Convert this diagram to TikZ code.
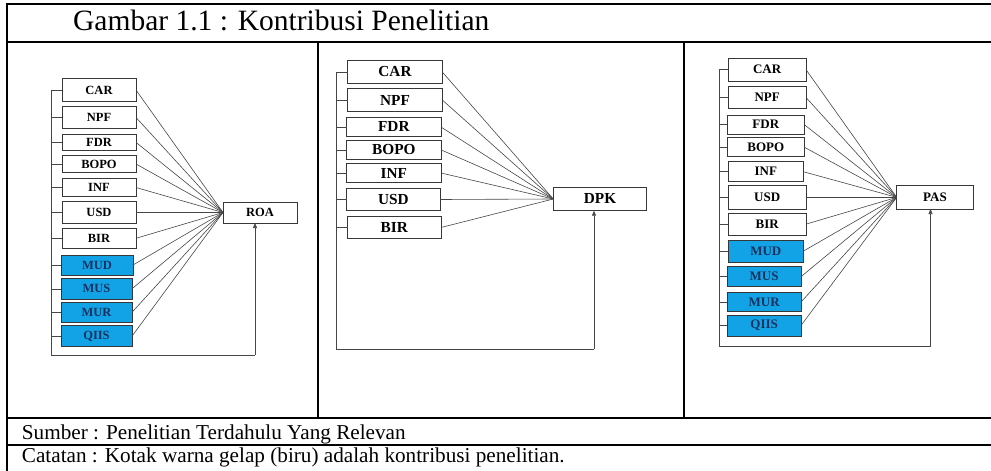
\documentclass[tikz,border=0pt]{standalone}
\usepackage{fontspec}
\setmainfont{Liberation Serif}
\usetikzlibrary{arrows.meta}

\definecolor{contrib}{RGB}{18,163,230}
\definecolor{contribtext}{RGB}{25,50,95}
\definecolor{wirecol}{RGB}{70,70,70}
\definecolor{edgecol}{RGB}{55,55,55}

% box given by its corners (x1,y1)-(x2,y2), y measured downwards
\newcommand{\boxnode}[7][]{%
  \pgfmathsetmacro\bxcx{(#3+#5)/2}\pgfmathsetmacro\bxcy{(#4+#6)/2}%
  \pgfmathsetmacro\bxw{#5-#3}\pgfmathsetmacro\bxh{#6-#4}%
  \node[#1, minimum width=\bxw pt, minimum height=\bxh pt] (#2) at (\bxcx,\bxcy) {#7};}

\begin{document}
\begin{tikzpicture}[x=1pt,y=-1pt,
  varbox/.style={draw=edgecol, line width=0.8pt, inner sep=0pt, outer sep=0pt, fill=white},
  pa/.style={varbox, font=\fontsize{12.5}{13}\selectfont\bfseries},
  pb/.style={varbox, line width=1pt, font=\fontsize{15.3}{16}\selectfont\bfseries},
  pc/.style={varbox, font=\fontsize{13}{14}\selectfont\bfseries},
  blue/.style={fill=contrib, text=contribtext},
  wire/.style={draw=wirecol, line width=0.6pt},
  feed/.style={wire, -{Triangle[length=5pt,width=4pt]}},
  rule/.style={line width=2pt, black},
  cell/.style={anchor=base west, inner sep=0pt}]

\useasboundingbox (0,0) rectangle (991,471);

% ---- table frame ----
\draw[rule] (7,4) -- (995,4);
\draw[rule] (7,3) -- (7,475);
\draw[rule] (7,42) -- (995,42);
\draw[rule] (318,42) -- (318,417.5);
\draw[rule] (684,42) -- (684,417.5);
\draw[rule] (7,417.5) -- (995,417.5);
\draw[rule] (7,445) -- (995,445);

\node[cell, font=\fontsize{29.5}{32}\selectfont] (title) at (73,30) {Gambar 1.1 : Kontribusi Penelitian};
\node[cell, font=\fontsize{21.2}{24}\selectfont] (source) at (21.7,439.3) {Sumber : Penelitian Terdahulu Yang Relevan};
\node[cell, font=\fontsize{21.2}{24}\selectfont] (note) at (21.7,462.7) {Catatan : Kotak warna gelap (biru) adalah kontribusi penelitian.};

% ---- panel 1: ROA ----
\boxnode[pa]{a1}{62}{78.3}{136}{101.7}{CAR}
\boxnode[pa]{a2}{62}{106.7}{136}{128.3}{NPF}
\boxnode[pa]{a3}{62}{134}{136}{150.7}{FDR}
\boxnode[pa]{a4}{62}{155.7}{136}{172.3}{BOPO}
\boxnode[pa]{a5}{62}{178.3}{136}{196.7}{INF}
\boxnode[pa]{a6}{62}{201.7}{136}{223.3}{USD}
\boxnode[pa]{a7}{62}{228.3}{136}{248.3}{BIR}
\boxnode[pa,blue]{a8}{61}{255}{133}{275}{MUD}
\boxnode[pa,blue]{a9}{61}{278.3}{132}{299.3}{MUS}
\boxnode[pa,blue]{a10}{61}{302.3}{132}{322.3}{MUR}
\boxnode[pa,blue]{a11}{61}{325.7}{132}{346.7}{QIIS}
\boxnode[pa]{roa}{223}{202}{297}{223}{ROA}

\coordinate (a-bot) at (51.7,355);
\coordinate (a-turn) at (255,355);
\draw[wire] (a1.west -| a-bot) -- (a-bot) -- (a-turn);
\draw[feed] (a-turn) -- (a-turn |- roa.south);
\foreach \n in {a1,a2,a3,a4,a5,a6,a7,a8,a9,a10,a11}{
  \draw[wire] (\n.west) -- (\n.west -| a-bot);
  \draw[wire] (\n.east) -- (roa.west);
}

% ---- panel 2: DPK ----
\boxnode[pb]{b1}{347.7}{60.7}{442.3}{83.3}{CAR}
\boxnode[pb]{b2}{347.7}{88.3}{442.3}{111.7}{NPF}
\boxnode[pb]{b3}{346.7}{117.3}{441}{136.7}{FDR}
\boxnode[pb]{b4}{346.7}{140.7}{441}{159}{BOPO}
\boxnode[pb]{b5}{346.7}{163.3}{441}{182.7}{INF}
\boxnode[pb]{b6}{346.7}{188.3}{440}{210.7}{USD}
\boxnode[pb]{b7}{347.7}{216.7}{441}{238.3}{BIR}
\boxnode[pb]{dpk}{553.3}{187.3}{646.7}{210.7}{DPK}

\coordinate (b-bot) at (336.7,349.3);
\coordinate (b-turn) at (594,349.3);
\draw[wire] (b1.west -| b-bot) -- (b-bot) -- (b-turn);
\draw[feed] (b-turn) -- (b-turn |- dpk.south);
\foreach \n in {b1,b2,b3,b4,b5,b6,b7}{
  \draw[wire] (\n.west) -- (\n.west -| b-bot);
  \draw[wire] (\n.east) -- (dpk.west);
}

% ---- panel 3: PAS ----
\boxnode[pc]{c1}{728.3}{58.3}{806}{81}{CAR}
\boxnode[pc]{c2}{728.3}{86.7}{806}{108.3}{NPF}
\boxnode[pc]{c3}{727.3}{115}{804.3}{134.3}{FDR}
\boxnode[pc]{c4}{727.3}{137.7}{804.3}{156.7}{BOPO}
\boxnode[pc]{c5}{728.3}{161.7}{803.3}{181.7}{INF}
\boxnode[pc]{c6}{728.3}{185.7}{806}{209}{USD}
\boxnode[pc]{c7}{728.3}{213.3}{806}{235}{BIR}
\boxnode[pc,blue]{c8}{728.3}{240}{803.3}{262.3}{MUD}
\boxnode[pc,blue]{c9}{727.3}{266.7}{801}{286.7}{MUS}
\boxnode[pc,blue]{c10}{727.3}{292.3}{801}{311.7}{MUR}
\boxnode[pc,blue]{c11}{727.3}{315}{801}{336}{QIIS}
\boxnode[pc]{pas}{896.7}{185.7}{973.3}{209}{PAS}

\coordinate (c-bot) at (719.3,346);
\coordinate (c-turn) at (930.5,346);
\draw[wire] (c1.west -| c-bot) -- (c-bot) -- (c-turn);
\draw[feed] (c-turn) -- (c-turn |- pas.south);
\foreach \n in {c1,c2,c3,c4,c5,c6,c7,c8,c9,c10,c11}{
  \draw[wire] (\n.west) -- (\n.west -| c-bot);
  \draw[wire] (\n.east) -- (pas.west);
}
\end{tikzpicture}
\end{document}
